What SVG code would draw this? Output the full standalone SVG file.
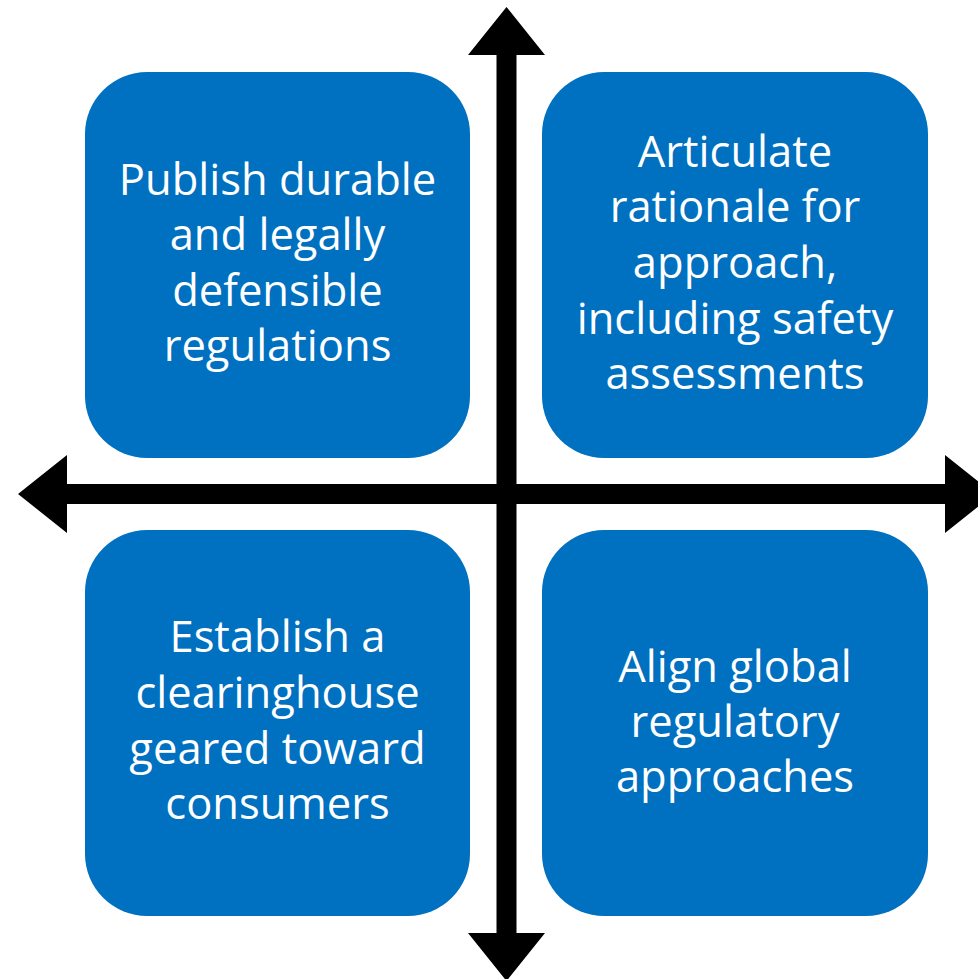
<svg xmlns="http://www.w3.org/2000/svg" width="978" height="979" viewBox="0 0 978 979">
<style>
.box{fill:#0070C0;}
.lbl{fill:#FFFFFF;font-family:"Open Sans","Liberation Sans",sans-serif;font-size:43.5px;text-anchor:middle;}
.arrow{fill:#000000;}
</style>
<rect width="978" height="979" fill="#FFFFFF"/>
<g id="node-tl">
<rect class="box" x="85" y="72" width="385" height="386" rx="62" ry="62"/>
<text class="lbl"><tspan x="277.5" y="195">Publish durable</tspan><tspan x="277.5" y="250">and legally</tspan><tspan x="277.5" y="306">defensible</tspan><tspan x="277.5" y="361">regulations</tspan></text>
</g>
<g id="node-tr">
<rect class="box" x="542" y="72" width="386" height="386" rx="62" ry="62"/>
<text class="lbl"><tspan x="735" y="167">Articulate</tspan><tspan x="735" y="222">rationale for</tspan><tspan x="735" y="278">approach,</tspan><tspan x="735" y="334">including safety</tspan><tspan x="735" y="389">assessments</tspan></text>
</g>
<g id="node-bl">
<rect class="box" x="85" y="530" width="385" height="386" rx="62" ry="62"/>
<text class="lbl"><tspan x="277.5" y="652">Establish a</tspan><tspan x="277.5" y="708">clearinghouse</tspan><tspan x="277.5" y="764">geared toward</tspan><tspan x="277.5" y="819">consumers</tspan></text>
</g>
<g id="node-br">
<rect class="box" x="542" y="530" width="386" height="386" rx="62" ry="62"/>
<text class="lbl"><tspan x="735" y="682">Align global</tspan><tspan x="735" y="737">regulatory</tspan><tspan x="735" y="792">approaches</tspan></text>
</g>
<g id="connectors">
<polygon class="arrow" points="506.5,7 545,55 516.5,55 516.5,933 545,933 506.5,981 468,933 496.5,933 496.5,55 468,55"/>
<polygon class="arrow" points="18,494 67,455 67,484 945,484 945,455 994,494 945,533 945,504 67,504 67,533"/>
</g>
</svg>
